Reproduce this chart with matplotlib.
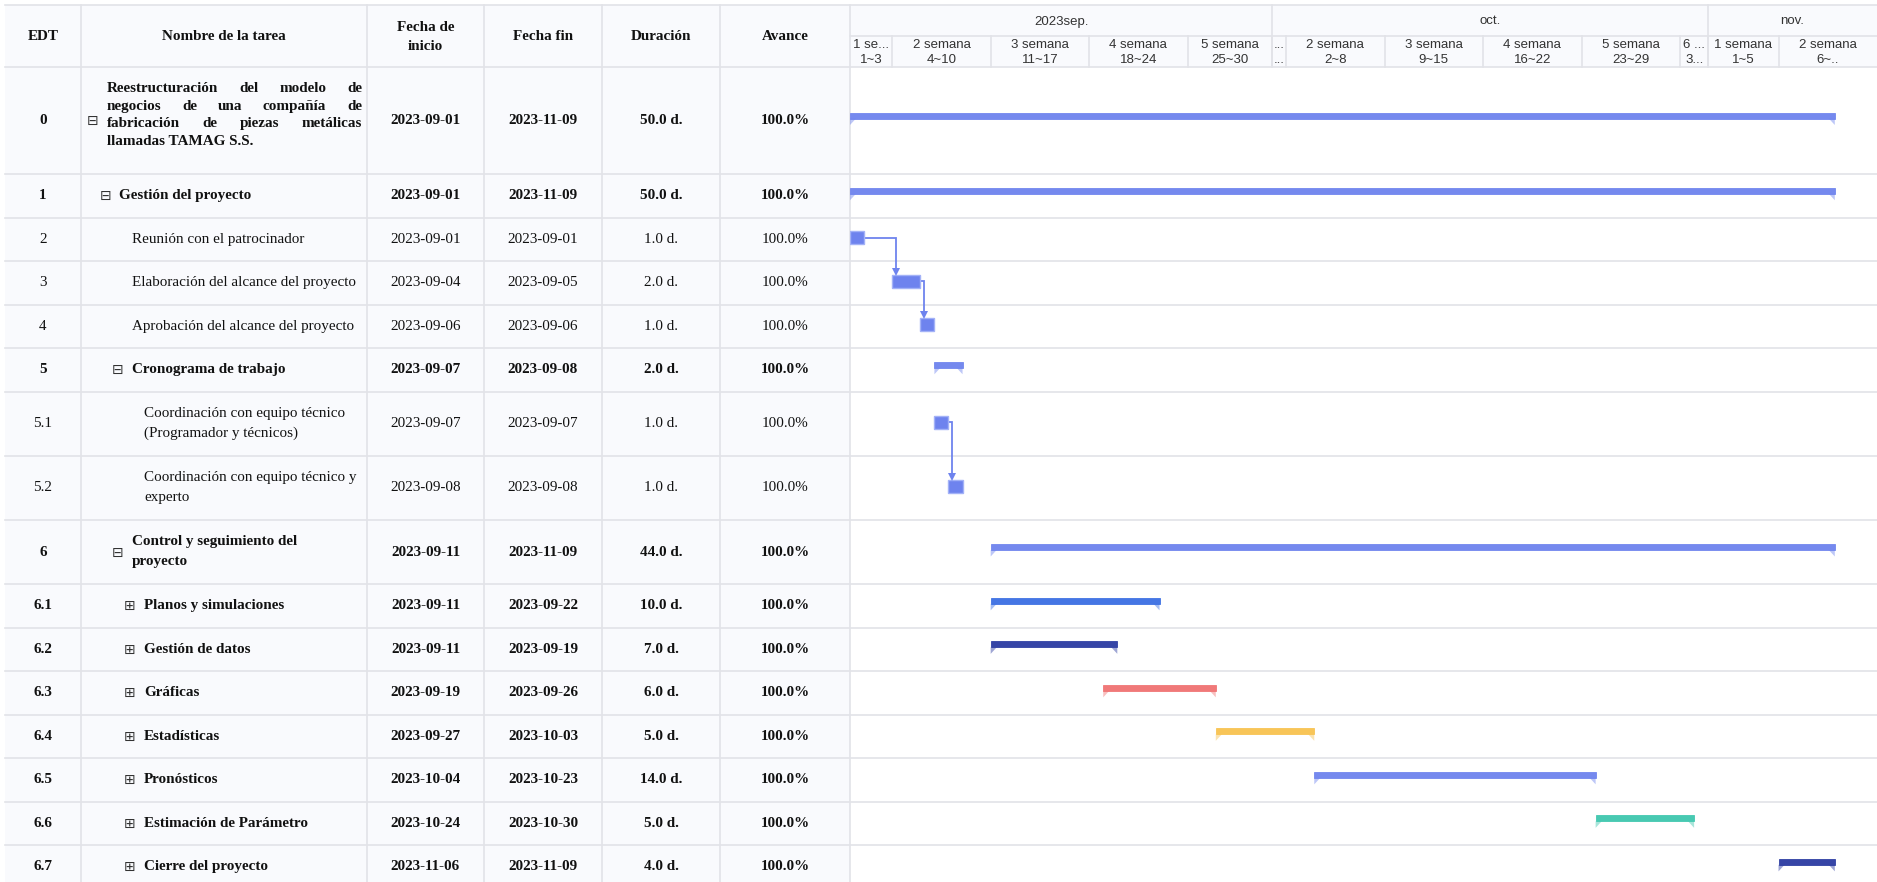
import matplotlib
matplotlib.use("Agg")
import matplotlib.pyplot as plt
import matplotlib.dates as mdates
from matplotlib.patches import Rectangle, Polygon
from datetime import datetime, timedelta

# ---------------- data ----------------
edt = ["0", "1", "2", "3", "4", "5", "5.1", "5.2", "6",
       "6.1", "6.2", "6.3", "6.4", "6.5", "6.6", "6.7"]
task_names = [
    "Reestructuración del modelo de\nnegocios de una compañía de\nfabricación de piezas metálicas\nllamadas TAMAG S.S.",
    "Gestión del proyecto",
    "Reunión con el patrocinador",
    "Elaboración del alcance del proyecto",
    "Aprobación del alcance del proyecto",
    "Cronograma de trabajo",
    "Coordinación con equipo técnico\n(Programador y técnicos)",
    "Coordinación con equipo técnico y\nexperto",
    "Control y seguimiento del\nproyecto",
    "Planos y simulaciones",
    "Gestión de datos",
    "Gráficas",
    "Estadísticas",
    "Pronósticos",
    "Estimación de Parámetro",
    "Cierre del proyecto",
]
start_dates = ["2023-09-01", "2023-09-01", "2023-09-01", "2023-09-04", "2023-09-06",
               "2023-09-07", "2023-09-07", "2023-09-08", "2023-09-11", "2023-09-11",
               "2023-09-11", "2023-09-19", "2023-09-27", "2023-10-04", "2023-10-24",
               "2023-11-06"]
end_dates = ["2023-11-09", "2023-11-09", "2023-09-01", "2023-09-05", "2023-09-06",
             "2023-09-08", "2023-09-07", "2023-09-08", "2023-11-09", "2023-09-22",
             "2023-09-19", "2023-09-26", "2023-10-03", "2023-10-23", "2023-10-30",
             "2023-11-09"]
durations = [50.0, 50.0, 1.0, 2.0, 1.0, 2.0, 1.0, 1.0, 44.0,
             10.0, 7.0, 6.0, 5.0, 14.0, 5.0, 4.0]
progress = [100.0, 100.0, 100.0, 100.0, 100.0, 100.0, 100.0, 100.0, 100.0,
            100.0, 100.0, 100.0, 100.0, 100.0, 100.0, 100.0]
outline_level = [0, 1, 2, 2, 2, 2, 3, 3, 2, 3, 3, 3, 3, 3, 3, 3]
node_type = ["open", "open", "task", "task", "task", "open", "task", "task", "open",
             "closed", "closed", "closed", "closed", "closed", "closed", "closed"]
bar_colors = ["#6e83ee", "#6e83ee", "#6e83ee", "#6e83ee", "#6e83ee", "#6e83ee",
              "#6e83ee", "#6e83ee", "#6e83ee", "#3b6fe3", "#2b3ba1", "#f07272",
              "#f8c24f", "#6e83ee", "#3ec6ae", "#2b3ba1"]
links = [("2", "3"), ("3", "4"), ("5.1", "5.2")]

table_headers = ["EDT", "Nombre de la tarea", "Fecha de\ninicio", "Fecha fin", "Duración", "Avance"]

month_starts = ["2023-09-01", "2023-10-01", "2023-11-01"]
month_labels = ["2023sep.", "oct.", "nov."]
week_starts = ["2023-09-01", "2023-09-04", "2023-09-11", "2023-09-18", "2023-09-25",
               "2023-10-01", "2023-10-02", "2023-10-09", "2023-10-16", "2023-10-23",
               "2023-10-30", "2023-11-01", "2023-11-06"]
week_labels = ["1 se...\n1~3", "2 semana\n4~10", "3 semana\n11~17", "4 semana\n18~24",
               "5 semana\n25~30", "...\n...", "2 semana\n2~8", "3 semana\n9~15",
               "4 semana\n16~22", "5 semana\n23~29", "6 ...\n3...", "1 semana\n1~5",
               "2 semana\n6~.."]
view_start = "2023-09-01"
view_end = "2023-11-13"

# ---------------- layout ----------------
W, H = 1877, 882
DPI = 100
TOP, HEAD_BOT, MID = 5, 67, 36
TABLE_L = 5
col_edges = [TABLE_L, 81, 367, 484, 602, 720, 850]
CHART_L = 850
GRID = "#e2e3e8"
BG = "#f9fafd"
SERIF = ["Liberation Serif", "DejaVu Serif"]
SANS = ["Liberation Sans", "DejaVu Sans"]
FS = 10.9

def dnum(s):
    return mdates.date2num(datetime.strptime(s, "%Y-%m-%d"))

fig = plt.figure(figsize=(W / DPI, H / DPI), dpi=DPI)
fig.patch.set_facecolor("white")
ax0 = fig.add_axes([0, 0, 1, 1])
ax0.set_xlim(0, W)
ax0.set_ylim(H, 0)
ax0.axis("off")

# row geometry
row_h = []
for n in task_names:
    k = n.count("\n") + 1
    row_h.append({1: 43.5, 2: 64.2}.get(k, 107))
row_top = []
y = HEAD_BOT
for h in row_h:
    row_top.append(y)
    y += h
row_c = [t + h / 2 for t, h in zip(row_top, row_h)]

# backgrounds
ax0.add_patch(Rectangle((TABLE_L, TOP), CHART_L - TABLE_L, H - TOP, facecolor=BG, edgecolor="none", zorder=0))
ax0.add_patch(Rectangle((CHART_L, TOP), W - CHART_L, HEAD_BOT - TOP, facecolor=BG, edgecolor="none", zorder=0))

# grid lines
lw = 1.2
ax0.plot([TABLE_L, W], [TOP, TOP], color=GRID, lw=lw, zorder=1)
ax0.plot([TABLE_L, W], [HEAD_BOT, HEAD_BOT], color=GRID, lw=lw, zorder=1)
ax0.plot([CHART_L, W], [MID, MID], color=GRID, lw=lw, zorder=1)
for t, h in zip(row_top, row_h):
    ax0.plot([TABLE_L, W], [t + h, t + h], color=GRID, lw=lw, zorder=1)
for x in col_edges[1:]:
    ax0.plot([x, x], [TOP, H], color=GRID, lw=lw, zorder=1)

# header texts
for i, htxt in enumerate(table_headers):
    cx = (col_edges[i] + col_edges[i + 1]) / 2
    lines = htxt.split("\n")
    n = len(lines)
    for j, ln in enumerate(lines):
        yy = 37 + (j - (n - 1) / 2) * 19
        ax0.text(cx, yy, ln, ha="center", va="center", fontsize=FS, fontweight="bold",
                 family=SERIF, color="#111111")

renderer = fig.canvas.get_renderer()

def text_width(s, **kw):
    t = ax0.text(0, 0, s, **kw)
    w = t.get_window_extent(renderer=renderer).width
    t.remove()
    return w

# table body
for i in range(len(edt)):
    c = row_c[i]
    bold = node_type[i] != "task"
    fw = "bold" if bold else "normal"
    kw = dict(fontsize=FS, fontweight=fw, family=SERIF, color="#111111")
    cells = [edt[i], None, start_dates[i], end_dates[i],
             f"{durations[i]:.1f} d.", f"{progress[i]:.1f}%"]
    for k, s in enumerate(cells):
        if s is None:
            continue
        cx = (col_edges[k] + col_edges[k + 1]) / 2
        ax0.text(cx, c, s, ha="center", va="center", **kw)
    # name
    text_x = 107 + 12.3 * outline_level[i]
    if node_type[i] != "task":
        icon = "\u229f" if node_type[i] == "open" else "\u229e"
        ax0.text(text_x - 14, c + 0.5, icon, ha="center", va="center", fontsize=10,
                 family=["DejaVu Sans"], color="#333333")
    lines = task_names[i].split("\n")
    n = len(lines)
    if n >= 4:
        sp = 17.6
        y0 = c - 31.8
        right = 362
        for j, ln in enumerate(lines):
            yy = y0 + j * sp
            words = ln.split(" ")
            if j < n - 1 and len(words) > 1:
                ws = [text_width(w, **kw) for w in words]
                gap = (right - text_x - sum(ws)) / (len(words) - 1)
                xx = text_x
                for w, wd in zip(words, ws):
                    ax0.text(xx, yy, w, ha="left", va="center", **kw)
                    xx += wd + gap
            else:
                ax0.text(text_x, yy, ln, ha="left", va="center", **kw)
    else:
        sp = 20
        for j, ln in enumerate(lines):
            yy = c + (j - (n - 1) / 2) * sp
            ax0.text(text_x, yy, ln, ha="left", va="center", **kw)

# ---------------- timeline axes ----------------
ax1 = fig.add_axes([CHART_L / W, 0, (W - CHART_L) / W, 1])
ax1.patch.set_alpha(0)
x0, x1 = dnum(view_start), dnum(view_end)
ax1.set_xlim(x0, x1)
ax1.set_ylim(H, 0)
ax1.axis("off")
px_per_day = (W - CHART_L) / (x1 - x0)

# month row
for i, (ms, lab) in enumerate(zip(month_starts, month_labels)):
    a = dnum(ms)
    b = dnum(month_starts[i + 1]) if i + 1 < len(month_starts) else x1
    b = min(b, x1)
    if i > 0:
        ax1.plot([a, a], [TOP, HEAD_BOT], color=GRID, lw=lw, zorder=1)
    ax1.text((a + b) / 2, 21.5, lab, ha="center", va="center", fontsize=9.5,
             family=SANS, color="#333333")
# week row
for i, (ws, lab) in enumerate(zip(week_starts, week_labels)):
    a = dnum(ws)
    b = dnum(week_starts[i + 1]) if i + 1 < len(week_starts) else x1
    b = min(b, x1)
    if i > 0:
        ax1.plot([a, a], [MID, HEAD_BOT], color=GRID, lw=lw, zorder=1)
    l1, l2 = lab.split("\n")
    ax1.text((a + b) / 2, 45.5, l1, ha="center", va="center", fontsize=9.5,
             family=SANS, color="#333333")
    ax1.text((a + b) / 2, 60, l2, ha="center", va="center", fontsize=9.5,
             family=SANS, color="#333333")

# bars
foot_w = 6 / px_per_day
for i in range(len(edt)):
    c = row_c[i]
    s = dnum(start_dates[i])
    e = dnum(end_dates[i]) + 1
    col = bar_colors[i]
    if node_type[i] == "task":
        ax1.barh(c - 1.5, e - s, left=s, height=13, color=col,
                 edgecolor="#a3b2f7", linewidth=1.0, zorder=3)
    else:
        ax1.barh(c - 5, e - s, left=s, height=6, color=col,
                 edgecolor=col, linewidth=0.6, alpha=0.95, zorder=3)
        yb = c - 2
        ax1.add_patch(Polygon([(s, yb), (s + foot_w, yb), (s, yb + 6.5)], closed=True,
                              facecolor=col, alpha=0.45, edgecolor="none", zorder=3))
        ax1.add_patch(Polygon([(e, yb), (e - foot_w, yb), (e, yb + 6.5)], closed=True,
                              facecolor=col, alpha=0.45, edgecolor="none", zorder=3))

# dependency links
idx = {k: i for i, k in enumerate(edt)}
for a_id, b_id in links:
    ia, ib = idx[a_id], idx[b_id]
    xe = dnum(end_dates[ia]) + 1
    ya = row_c[ia] - 1.5
    xs = dnum(start_dates[ib]) + 4 / px_per_day
    yt = row_c[ib] - 8
    ax1.plot([xe, xs, xs], [ya, ya, yt - 3], color="#6e83ee", lw=1.3, zorder=2,
             solid_joinstyle="miter")
    ax1.plot([xs], [yt - 3], marker="v", markersize=5.5, color="#6e83ee",
             markeredgewidth=0, zorder=4)

fig.savefig("out.png", dpi=DPI, facecolor="white")
